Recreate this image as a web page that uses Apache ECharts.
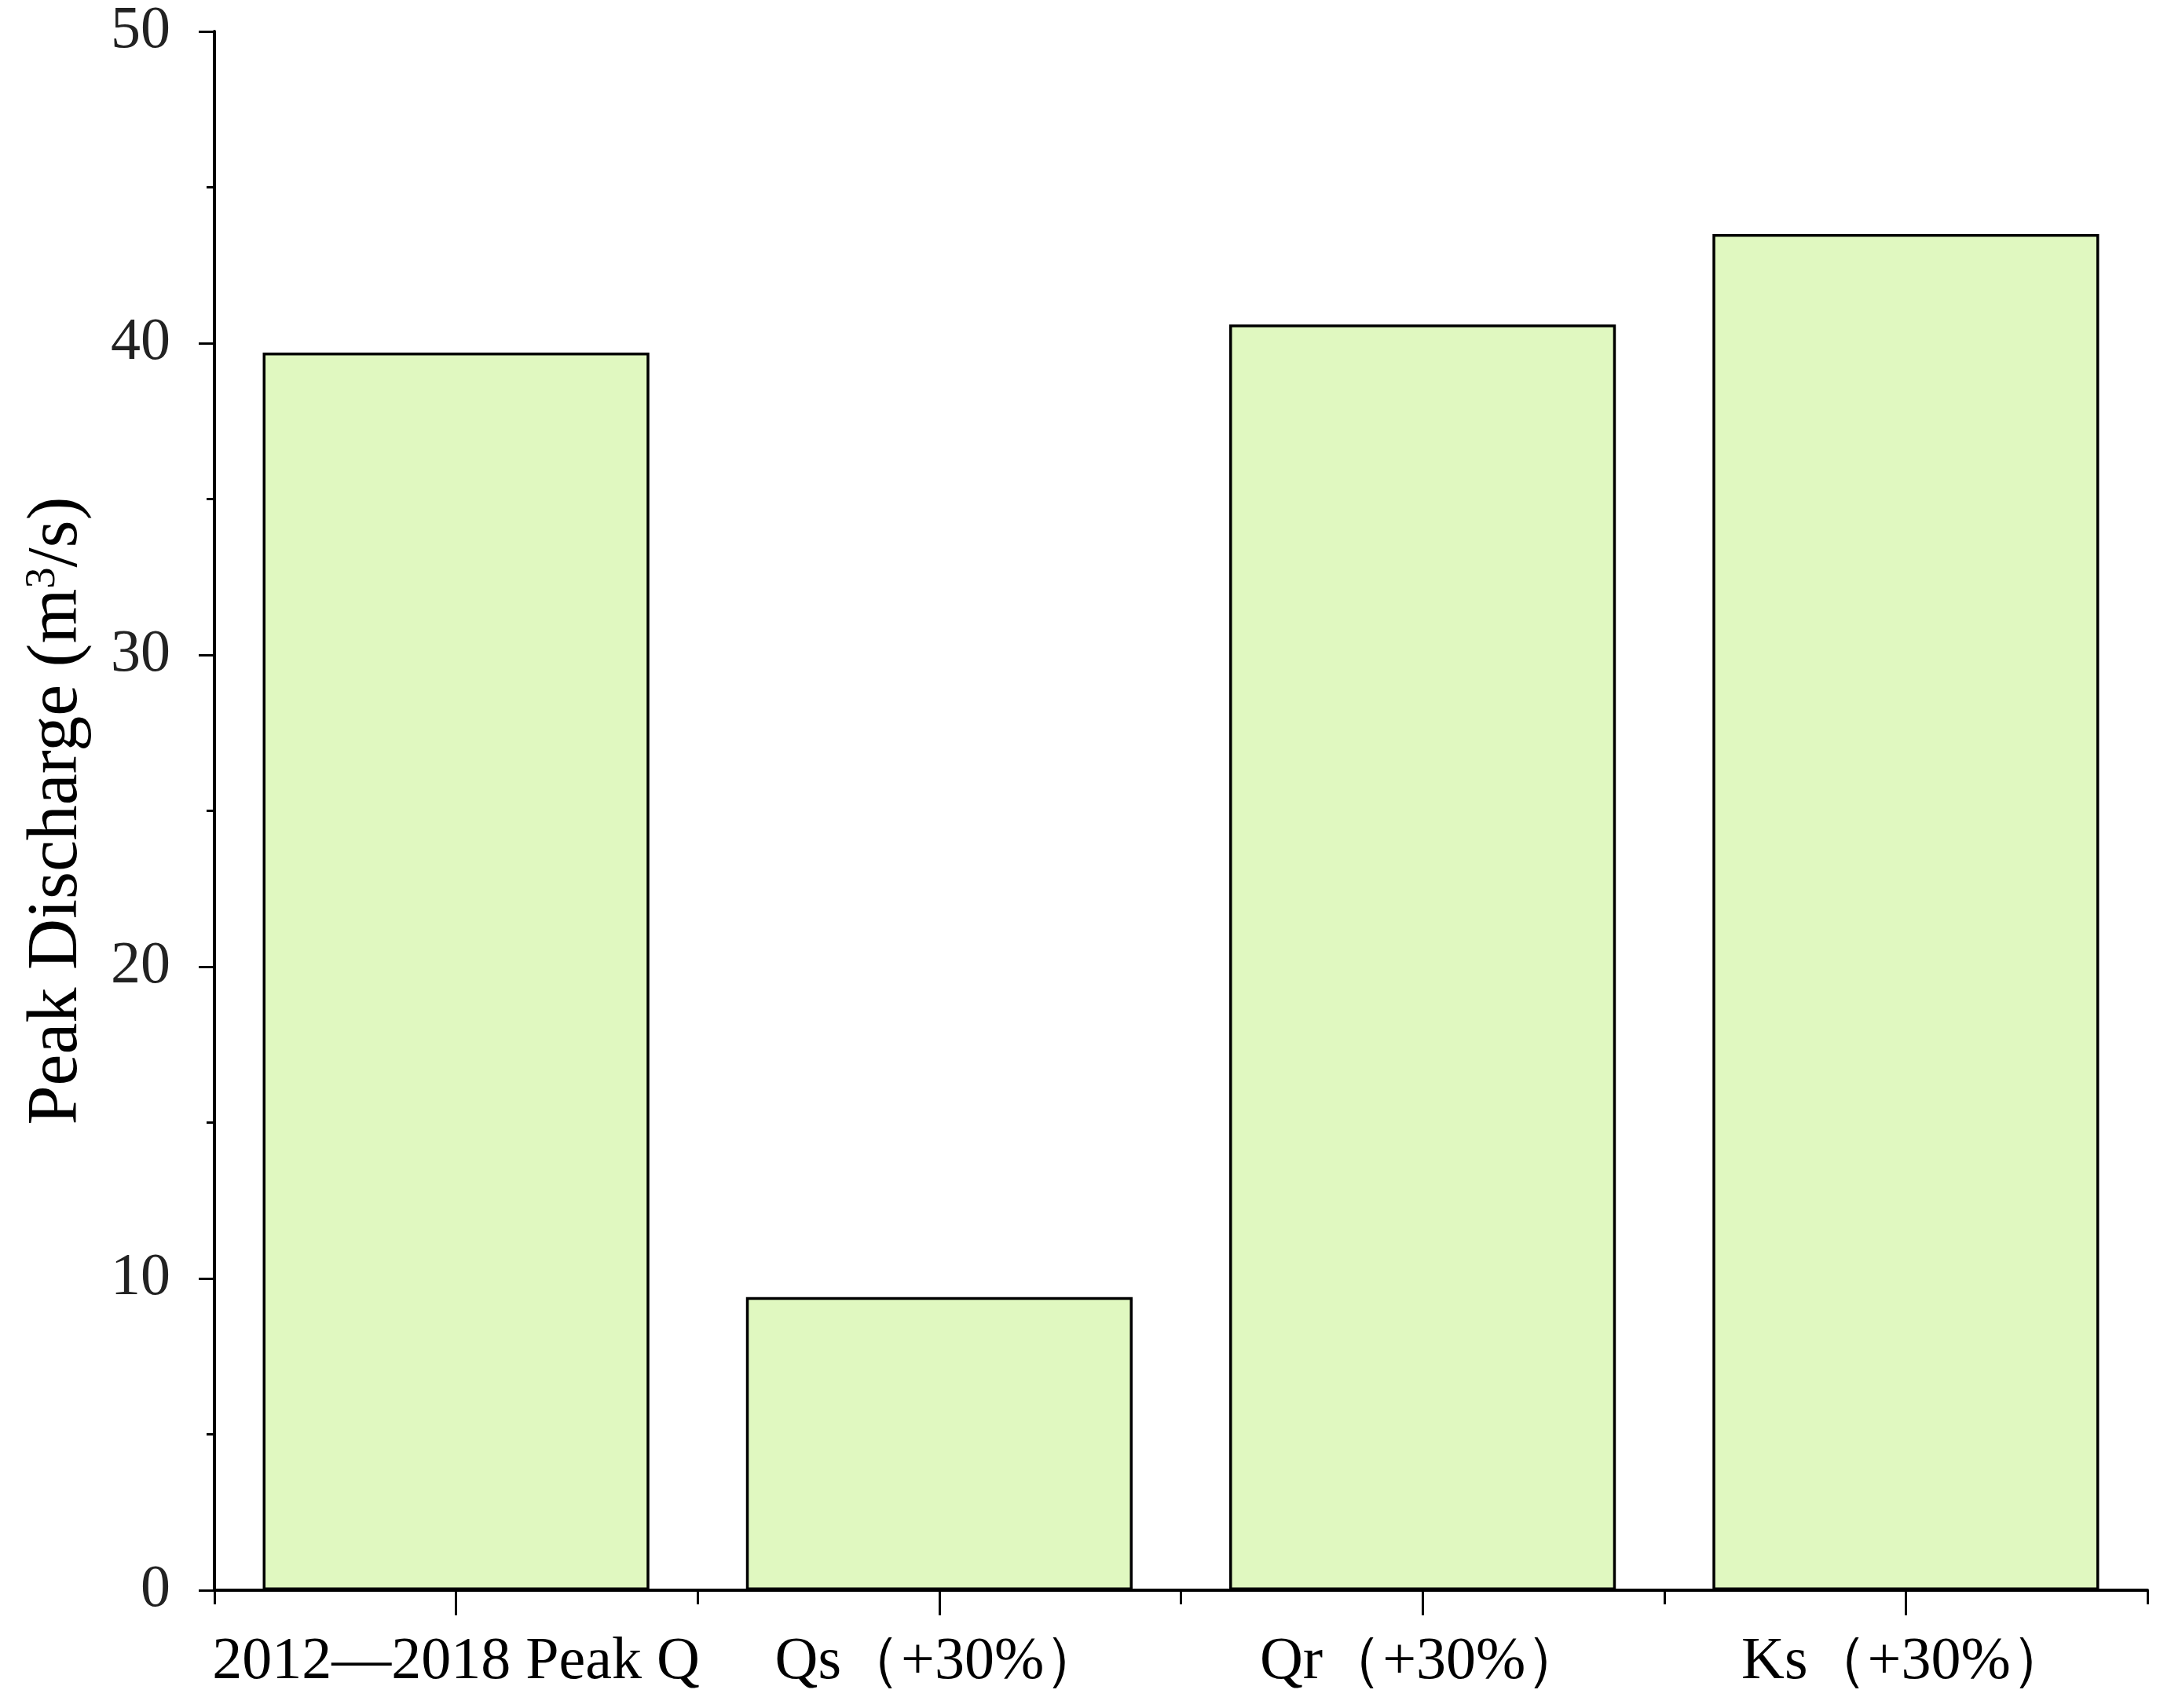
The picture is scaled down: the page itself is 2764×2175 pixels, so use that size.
<!DOCTYPE html>
<html><head><meta charset="utf-8">
<script src="https://cdn.jsdelivr.net/npm/echarts@6/dist/echarts.min.js"></script>
<style>html,body{margin:0;padding:0;background:#fff}#c{width:2764px;height:2175px}</style>
</head><body><div id="c"></div>
<script>
const categories = ['2012\u20142018 Peak Q', 'Qs\uff08+30%\uff09', 'Qr\uff08+30%\uff09', 'Ks\uff08+30%\uff09'];
const peakDischarge = [39.7, 9.4, 40.6, 43.5];
const yTicks = [0, 10, 20, 30, 40, 50];

const font = '"Liberation Serif", "Times New Roman", serif';
const chart = echarts.init(document.getElementById('c'));
chart.setOption({
  animation: false,
  backgroundColor: '#fff',
  grid: { left: 273, right: 30, top: 40, bottom: 150, containLabel: false, outerBoundsMode: 'none' },
  xAxis: [{
    type: 'category', data: categories, position: 'bottom',
    axisLine: { show: true, lineStyle: { color: '#000', width: 4 } },
    axisTick: { show: true, alignWithLabel: true, interval: 0, length: 32, lineStyle: { color: '#000', width: 3 } },
    axisLabel: { show: true, interval: 0, color: '#000', fontFamily: font, fontSize: 76, margin: 54 },
    splitLine: { show: false }
  }, {
    type: 'category', data: categories, position: 'bottom',
    axisLine: { show: false },
    axisTick: { show: true, interval: 0, length: 18, lineStyle: { color: '#000', width: 3 } },
    axisLabel: { show: false },
    splitLine: { show: false }
  }],
  yAxis: {
    type: 'value', min: yTicks[0], max: yTicks[yTicks.length - 1], interval: 10,
    name: 'Peak Discharge (m{sup|3}/s)', nameLocation: 'middle', nameGap: 155, nameRotate: 90,
    nameTextStyle: { color: '#000', fontFamily: font, fontSize: 90,
      rich: { sup: { fontFamily: font, fontSize: 54, verticalAlign: 'top', padding: [0, 0, 36, 0], color: '#000' } } },
    axisLine: { show: true, lineStyle: { color: '#000', width: 4 } },
    axisTick: { show: true, length: 20, lineStyle: { color: '#000', width: 3 } },
    minorTick: { show: true, splitNumber: 2, length: 10, lineStyle: { color: '#000', width: 3 } },
    axisLabel: { color: '#222', fontFamily: font, fontSize: 76, margin: 56 },
    splitLine: { show: false }
  },
  series: [{
    type: 'bar', data: peakDischarge, barCategoryGap: '20%',
    itemStyle: { color: '#e0f8c0', borderColor: '#000', borderWidth: 3.5 }
  }]
});
</script></body></html>
